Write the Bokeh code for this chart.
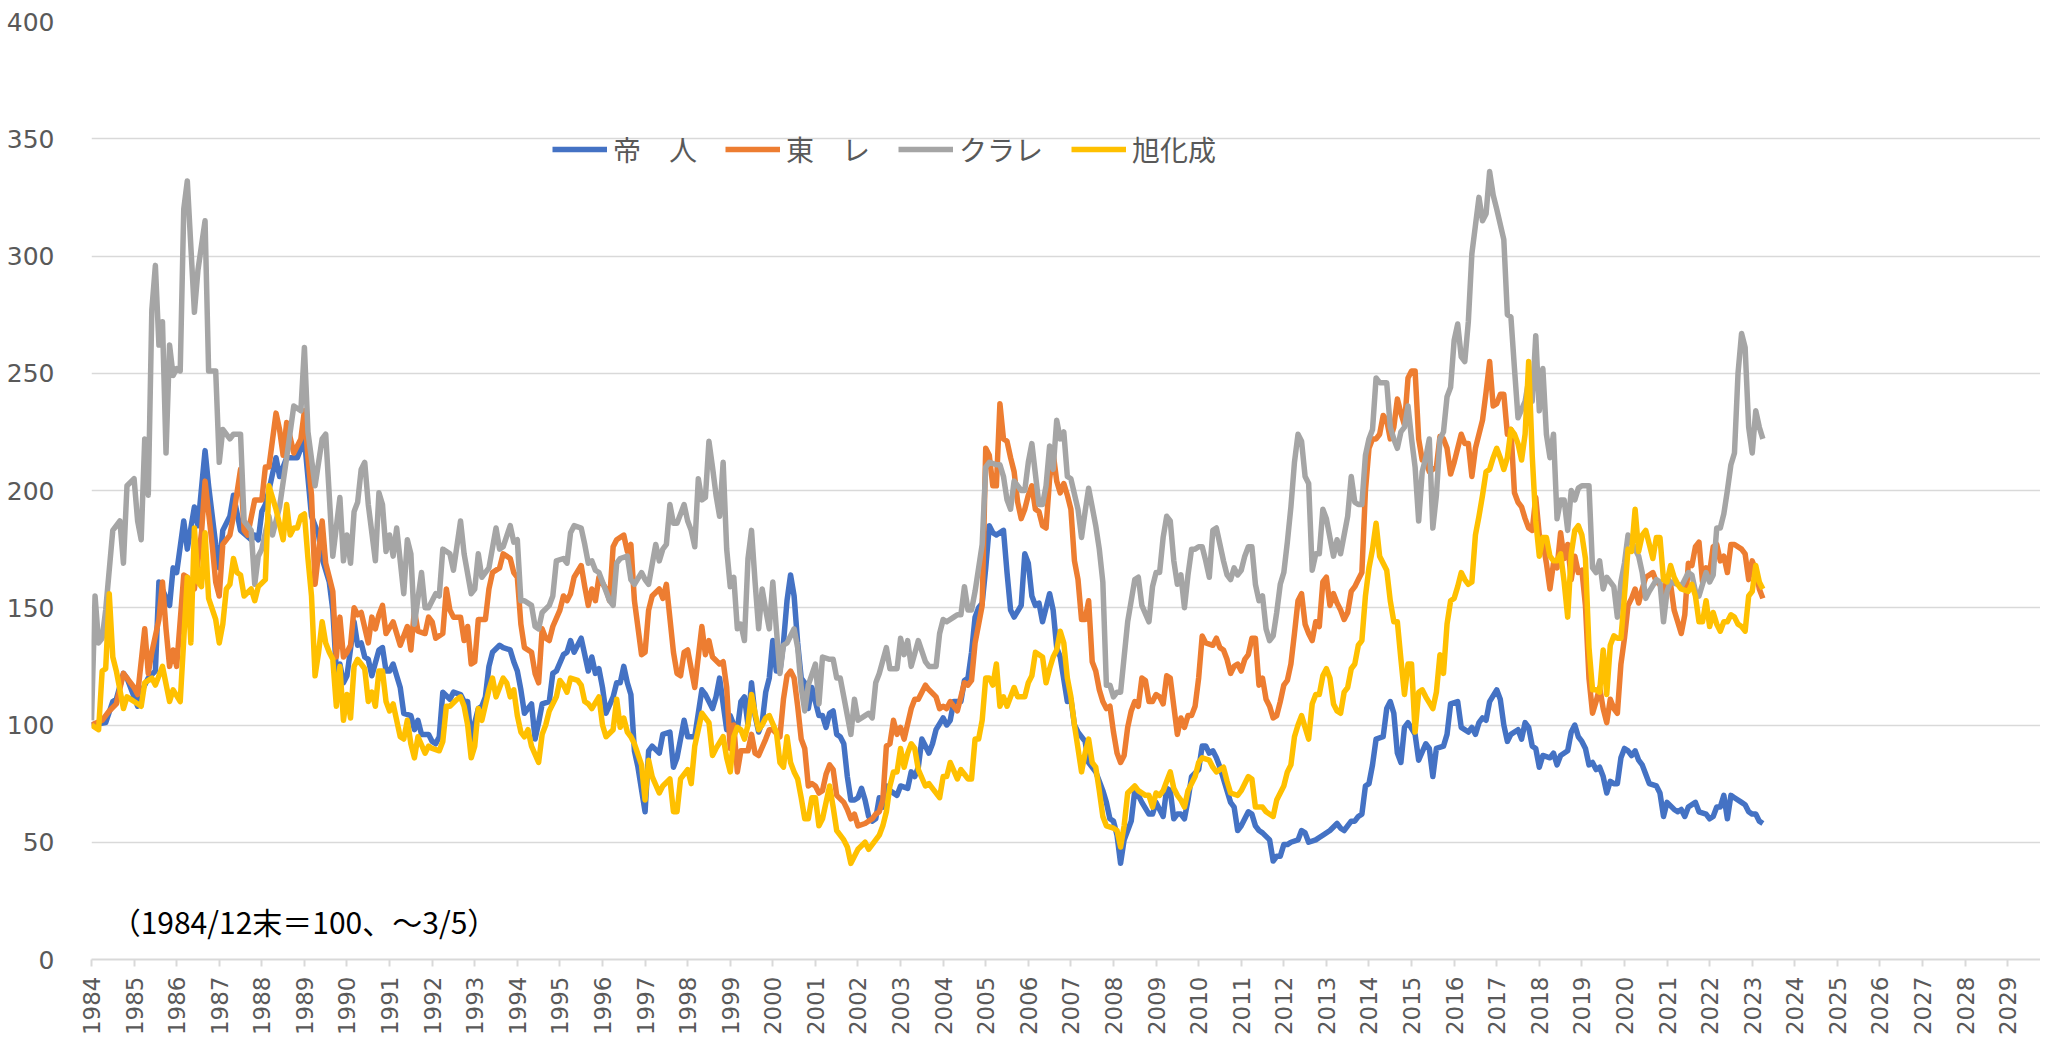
import math
from bokeh.plotting import figure
from bokeh.models import Range1d, FixedTicker, Legend, LegendItem, Label
from bokeh.embed import file_html
from bokeh.resources import INLINE

# ---------------- data (month index from the 1984/12 base point, index value) ----------------
BASE_YEAR = 1984  # base point (1984/12末 = 100) sits on the "1984" tick

teijin = [(0,100),(4,101),(6,110),(7,111),(9,122),(10,120),(13,108),(14,114),(16,120),(18,123),(19,161),(22,151),(23,167),(24,165),(26,187),(27,175),(29,193),(30,185),(32,217),(33,202),(35,177),(36,167),(37,183),(39,189),(40,198),(42,183),(45,179),(46,181),(47,179),(48,191),(49,194),(50,200),(52,214),(53,206),(55,214),(57,214),(58,214),(60,222),
 (62,189),(64,181),(65,171),(67,161),(68,149),(69,123),(70,126),(71,118),(72,121),(74,144),(75,134),(76,135),(77,129),(78,128),(79,121),(81,132),(82,133),(83,123),(84,123),(85,126),(87,116),(88,105),(90,104),(91,98),(92,102),(93,96),(95,96),(96,93),(97,92),(98,95),(99,114),(101,111),(102,114),(104,113),(105,110),(106,110),(107,92),(108,101),(109,107),(110,108),(111,112),(112,125),(113,131),(115,134),(116,133),(118,132),(119,127),(120,123),
 (121,115),(122,105),(124,109),(125,94),(126,101),(127,109),(129,110),(130,122),(131,123),(133,130),(134,131),(135,136),(136,131),(138,137),(139,130),(140,123),(141,129),(142,122),(143,124),(144,116),(145,105),(147,112),(148,118),(149,118),(150,125),(151,118),(152,113),(153,89),(154,82),(156,63),(157,89),(158,91),(160,88),(161,96),(163,97),(164,82),(165,86),(167,102),(168,95),(170,95),(172,115),(173,113),(175,107),(176,112),(177,120),(179,98),(180,104),
 (181,100),(182,98),(183,110),(184,112),(185,100),(186,118),(187,104),(188,97),(189,101),(190,114),(191,120),(192,136),(193,123),(194,123),(195,135),(196,153),(197,164),(198,155),(199,135),(200,120),(201,118),(202,107),(203,116),(205,104),(206,104),(207,99),(208,105),(209,106),(210,96),(211,95),(212,92),(213,78),(214,68),(215,68),(216,69),(217,73),(218,68),(219,61),(220,59),(221,60),(222,69),(223,65),(224,74),(225,72),(227,70),(228,74),(230,73),(231,80),(232,78),(233,82),(234,94),(235,91),(236,88),(237,92),(238,98),(240,103),
 (241,100),(242,102),(243,110),(245,110),(246,119),(247,120),(248,131),(249,146),(250,150),(251,152),(252,167),(253,185),(254,182),(255,181),(257,183),(258,165),(259,149),(260,146),(262,151),(263,173),(264,169),(265,155),(266,151),(267,152),(268,144),(270,156),(271,149),(272,133),(273,129),(275,110),(276,111),(277,100),(278,97),(280,93),(281,84),(283,80),(284,76),(285,72),(286,67),(287,60),(288,59),(289,53),(290,41),(291,51),(293,59),(294,72),(295,70),(296,67),(298,62),(299,62),(300,67),
 (301,64),(302,61),(303,73),(304,72),(305,60),(306,62),(307,62),(308,60),(309,68),(310,78),(312,81),(313,91),(314,91),(315,88),(316,89),(317,86),(318,82),(320,72),(321,67),(322,65),(323,55),(324,57),(325,60),(326,63),(327,62),(328,57),(329,55),(330,54),(332,51),(333,42),(334,44),(335,44),(336,49),(337,49),(338,50),(340,51),(341,55),(342,54),(343,50),(345,51),(346,52),(347,53),(349,55),(351,58),(352,56),(353,55),(355,59),(356,59),(357,61),(358,62),(359,74),(360,75),
 (361,83),(362,94),(364,95),(365,107),(366,110),(367,105),(368,88),(369,84),(370,99),(371,101),(373,96),(374,85),(376,92),(377,90),(378,78),(379,90),(381,91),(382,96),(383,109),(385,110),(386,99),(388,97),(389,99),(390,96),(391,101),(392,103),(393,102),(394,110),(396,115),(397,111),(398,100),(399,93),(400,96),(402,98),(403,94),(404,101),(405,99),(406,91),(407,90),(408,82),(409,87),(411,86),(412,88),(413,83),(414,87),(416,89),(417,97),(418,100),(419,95),(420,93),
 (421,90),(422,83),(423,84),(424,81),(425,82),(426,78),(427,71),(428,76),(429,75),(430,75),(431,86),(432,90),(433,89),(434,87),(435,89),(436,85),(437,83),(438,79),(439,75),(441,74),(442,71),(443,61),(444,67),(446,64),(447,63),(448,64),(449,61),(450,65),(452,67),(453,63),(455,62),(456,60),(457,61),(458,65),(459,65),(460,70),(461,60),(462,70),(463,69),(465,67),(466,66),(467,63),(468,62),(469,62),(470,59),(471,58)]

toray = [(0,100),(3,102),(5,106),(7,109),(9,122),(12,116),(13,113),(15,141),(16,122),(17,131),(19,145),(20,161),(21,141),(22,125),(23,132),(24,125),(26,164),(27,163),(29,158),(31,182),(32,204),(34,177),(35,161),(36,155),(37,177),(39,181),(40,189),(42,209),(43,183),(44,181),(46,196),(48,196),(49,210),(50,210),(52,233),(53,226),(54,215),(55,229),(57,216),(59,222),(60,234),
 (61,214),(62,198),(63,160),(65,187),(66,169),(67,163),(68,157),(69,129),(70,146),(71,129),(72,131),(73,134),(74,150),(75,147),(76,148),(78,135),(79,146),(80,141),(81,147),(82,151),(83,139),(85,144),(87,134),(89,142),(90,132),(91,149),(92,140),(94,139),(95,146),(96,144),(97,137),(99,139),(100,158),(101,149),(102,146),(104,146),(105,136),(106,142),(107,126),(108,127),(109,145),(111,145),(112,158),(113,165),(115,167),(116,173),(118,171),(119,165),(120,163),
 (121,143),(122,133),(124,131),(125,122),(126,118),(127,141),(128,137),(129,136),(130,142),(132,149),(133,155),(134,153),(135,156),(136,163),(138,168),(139,159),(140,151),(141,158),(142,153),(143,163),(145,158),(146,153),(147,176),(148,179),(150,181),(151,174),(152,177),(153,153),(155,130),(156,131),(157,149),(158,155),(160,158),(161,154),(162,160),(164,131),(165,122),(166,121),(167,131),(168,132),(170,116),(172,142),(173,130),(174,136),(175,129),(177,126),(178,127),(179,116),(180,90),
 (181,100),(182,80),(183,89),(185,89),(186,96),(187,88),(188,87),(190,94),(191,98),(192,98),(194,95),(195,111),(196,121),(197,123),(198,120),(199,108),(200,94),(201,90),(202,74),(203,75),(204,74),(205,71),(206,72),(207,79),(208,83),(209,81),(210,70),(212,67),(213,64),(214,60),(215,62),(216,57),(218,58),(220,60),(221,62),(222,63),(223,68),(224,91),(225,92),(226,102),(227,96),(228,99),(229,94),(231,107),(232,111),(233,111),(234,114),(235,117),(236,115),(238,112),(239,107),(240,108),
 (241,107),(242,110),(244,106),(245,112),(246,118),(247,117),(248,119),(249,135),(250,143),(251,151),(252,218),(253,215),(254,202),(255,202),(256,237),(257,222),(258,221),(259,214),(260,208),(261,195),(262,188),(263,192),(264,198),(265,202),(266,192),(267,191),(268,185),(269,184),(270,205),(271,216),(272,204),(273,199),(274,203),(275,198),(276,192),(277,170),(278,162),(279,145),(280,145),(281,153),(282,127),(283,123),(284,115),(285,110),(286,107),(287,108),(288,97),(289,88),(290,84),(291,87),(292,99),(293,106),(294,110),(295,108),(296,120),(297,119),(298,110),(299,110),(300,113),
 (301,112),(302,109),(303,121),(304,120),(305,108),(306,96),(307,103),(308,99),(309,104),(310,104),(311,108),(312,120),(313,138),(314,135),(316,134),(317,137),(318,133),(319,132),(320,128),(321,122),(322,125),(323,126),(324,123),(325,128),(326,130),(327,137),(328,137),(329,117),(330,120),(331,111),(332,108),(333,103),(334,104),(335,110),(336,117),(337,119),(338,126),(339,139),(340,153),(341,156),(342,143),(343,139),(344,136),(345,144),(346,142),(347,161),(348,163),(349,151),(350,156),(351,152),(352,149),(353,145),(354,148),(355,157),(356,159),(357,162),(358,165),(359,200),(360,218),
 (361,222),(362,222),(363,224),(364,232),(365,230),(366,222),(367,227),(368,239),(369,233),(370,228),(371,248),(372,251),(373,251),(374,222),(375,213),(376,213),(377,208),(379,210),(380,223),(381,222),(382,218),(383,207),(384,212),(386,224),(387,220),(388,220),(389,206),(390,218),(392,230),(393,242),(394,255),(395,236),(396,237),(397,241),(398,241),(399,224),(400,226),(401,199),(402,195),(403,193),(404,188),(405,184),(406,183),(407,197),(408,181),(409,178),(410,169),(411,158),(412,169),(413,167),(414,182),(415,171),(416,177),(417,162),(418,172),(419,165),(420,166),
 (421,151),(422,120),(423,105),(424,110),(425,116),(426,107),(427,101),(428,111),(429,107),(430,105),(431,126),(432,137),(433,151),(434,154),(435,158),(436,152),(437,158),(438,163),(439,164),(440,165),(441,161),(442,160),(443,155),(444,163),(445,160),(446,149),(447,144),(448,139),(449,147),(450,169),(451,168),(452,176),(453,178),(454,161),(455,167),(456,165),(457,176),(458,177),(459,170),(460,172),(461,165),(462,177),(463,177),(465,175),(466,173),(467,162),(468,170),(469,166),(470,158),(471,154)]

kuraray = [(0,102),(1,155),(2,135),(3,137),(4,149),(6,183),(8,187),(9,169),(10,202),(12,205),(13,187),(14,179),(15,222),(16,198),(17,277),(18,296),(19,262),(20,272),(21,216),(22,262),(23,249),(24,252),(25,251),(26,320),(27,332),(29,276),(30,294),(32,315),(33,251),(35,251),(36,212),(37,226),(39,222),(40,224),(42,224),(43,187),(45,183),(46,160),(47,172),(48,175),(50,189),(51,181),(53,193),(55,214),(57,236),(59,234),(60,261),
 (61,225),(63,202),(65,222),(66,224),(67,198),(68,172),(70,197),(71,170),(72,181),(73,169),(74,191),(75,195),(76,209),(77,212),(78,194),(80,170),(81,199),(82,194),(83,174),(84,181),(85,172),(86,184),(88,156),(89,179),(90,173),(91,143),(93,165),(94,150),(95,150),(97,156),(98,155),(99,175),(101,173),(102,166),(104,187),(105,173),(107,156),(108,158),(109,173),(110,163),(112,167),(114,184),(115,175),(116,176),(118,185),(119,178),(120,179),
 (121,153),(122,153),(124,151),(125,142),(126,141),(127,148),(129,151),(130,155),(131,170),(133,171),(134,169),(135,182),(136,185),(138,184),(139,177),(140,169),(141,170),(142,166),(143,165),(145,157),(146,153),(147,151),(148,169),(149,171),(151,172),(152,162),(153,160),(155,165),(156,162),(157,160),(159,177),(160,170),(161,175),(162,177),(163,194),(164,186),(165,186),(167,194),(168,187),(169,183),(170,176),(171,205),(172,196),(173,197),(174,221),(175,210),(176,198),(177,189),(178,212),(179,175),(180,159),
 (181,163),(182,141),(183,143),(184,136),(185,171),(186,183),(187,161),(188,141),(189,158),(190,149),(191,141),(192,161),(193,141),(194,122),(195,134),(196,135),(198,141),(199,133),(200,116),(201,106),(202,117),(204,126),(205,109),(206,129),(208,128),(209,128),(210,120),(211,120),(212,112),(214,96),(215,111),(216,102),(218,104),(219,105),(220,103),(221,118),(222,122),(224,133),(225,124),(227,124),(228,137),(229,130),(230,136),(231,125),(233,136),(235,127),(236,125),(238,125),(239,139),(240,145),
 (241,144),(243,146),(244,147),(245,147),(246,159),(247,149),(248,149),(249,157),(250,167),(251,177),(252,210),(253,212),(255,211),(256,211),(257,206),(258,196),(259,192),(260,204),(262,200),(263,200),(264,212),(265,220),(267,194),(268,194),(269,202),(270,219),(271,209),(272,230),(273,222),(274,225),(275,206),(276,205),(278,192),(279,180),(280,191),(281,201),(283,185),(284,175),(285,161),(286,117),(287,117),(288,112),(289,114),(290,114),(291,129),(292,144),(294,162),(295,163),(296,151),(298,144),(299,159),(300,165),
 (301,165),(302,180),(303,189),(304,187),(305,170),(306,160),(307,164),(308,150),(309,164),(310,175),(311,175),(312,176),(313,176),(314,170),(315,163),(316,183),(317,184),(318,177),(319,170),(320,164),(321,162),(322,167),(323,164),(324,166),(325,172),(326,176),(327,176),(328,160),(329,153),(330,155),(331,141),(332,136),(333,138),(334,148),(335,160),(336,165),(337,178),(338,193),(339,212),(340,224),(341,221),(342,206),(343,203),(344,166),(345,173),(346,173),(347,192),(348,188),(350,172),(351,179),(352,173),(354,189),(355,206),(356,195),(357,194),(358,194),(359,215),(360,222),
 (361,226),(362,248),(363,246),(365,246),(366,227),(367,222),(368,218),(369,225),(370,227),(371,236),(372,222),(373,210),(374,187),(375,208),(376,214),(377,222),(378,184),(379,198),(380,222),(381,225),(382,240),(383,244),(384,264),(385,271),(386,257),(387,255),(388,272),(389,301),(390,313),(391,325),(392,315),(393,318),(394,336),(395,326),(396,320),(398,307),(399,275),(400,274),(401,252),(402,231),(404,238),(405,247),(406,238),(407,266),(408,234),(409,252),(410,224),(411,214),(412,224),(413,188),(414,196),(415,196),(416,183),(417,200),(418,196),(419,201),(420,202),
 (421,202),(422,202),(423,167),(424,165),(425,170),(426,158),(427,163),(429,159),(430,146),(431,161),(432,169),(433,181),(434,178),(436,172),(437,165),(438,154),(439,157),(441,162),(442,161),(443,144),(444,157),(445,161),(447,160),(448,159),(450,165),(451,164),(452,157),(453,155),(455,165),(456,161),(457,164),(458,184),(459,184),(460,190),(461,200),(462,211),(463,216),(464,250),(465,267),(466,261),(467,227),(468,216),(469,234),(470,227),(471,222)]

asahi = [(0,100),(2,98),(3,123),(4,124),(5,156),(6,129),(7,123),(9,107),(10,112),(12,110),(14,108),(15,118),(17,120),(18,117),(20,125),(22,110),(23,115),(25,110),(27,163),(28,135),(29,184),(30,161),(31,159),(32,182),(33,154),(35,145),(36,135),(37,143),(38,158),(39,160),(40,171),(41,165),(42,164),(43,155),(45,158),(46,153),(47,159),(49,162),(50,202),(52,192),(54,179),(55,194),(56,181),(57,184),(58,184),(59,189),(60,190),
 (61,171),(62,155),(63,121),(64,131),(65,144),(66,135),(67,131),(68,128),(69,108),(70,125),(71,102),(72,113),(73,103),(74,125),(75,128),(76,126),(77,124),(78,110),(79,114),(80,108),(81,123),(82,123),(83,110),(84,106),(85,109),(87,95),(88,94),(89,102),(90,92),(91,86),(92,95),(94,88),(95,91),(96,90),(98,89),(99,93),(100,108),(101,108),(103,111),(104,112),(105,108),(106,100),(107,86),(108,91),(109,107),(110,102),(112,115),(113,120),(114,112),(115,116),(116,120),(117,118),(118,112),(119,115),(120,104),
 (121,97),(122,95),(123,98),(124,91),(126,84),(127,96),(128,100),(129,106),(131,112),(132,119),(133,117),(134,114),(135,120),(137,119),(138,117),(139,110),(140,109),(141,107),(143,112),(144,100),(145,95),(147,98),(148,111),(149,99),(150,103),(151,97),(152,95),(153,92),(155,83),(156,68),(157,85),(158,78),(160,71),(161,74),(163,77),(164,63),(165,63),(166,77),(168,81),(169,75),(170,91),(172,105),(173,103),(174,101),(175,87),(176,90),(178,95),(179,86),(180,80),
 (181,95),(182,99),(183,98),(184,94),(185,100),(186,113),(187,105),(188,98),(189,100),(190,103),(191,104),(193,97),(194,84),(195,82),(196,95),(197,84),(198,80),(199,77),(200,69),(201,60),(202,60),(203,69),(204,69),(205,57),(206,60),(208,74),(209,65),(210,55),(212,51),(213,48),(214,41),(215,44),(216,47),(218,50),(219,47),(221,51),(222,53),(223,57),(224,63),(225,74),(226,80),(227,80),(228,90),(229,82),(230,88),(231,92),(232,90),(233,81),(235,74),(236,75),(237,73),(239,69),(240,78),
 (241,78),(242,84),(244,77),(245,81),(246,79),(247,77),(248,77),(249,94),(250,94),(251,102),(252,120),(253,120),(254,117),(255,126),(256,108),(257,112),(258,108),(260,116),(261,112),(263,112),(264,118),(265,121),(266,131),(268,129),(269,118),(270,124),(271,129),(272,132),(273,140),(274,135),(275,120),(276,112),(277,100),(278,90),(279,80),(280,88),(281,94),(282,84),(283,82),(284,72),(285,61),(286,57),(288,56),(289,55),(290,48),(291,57),(292,71),(294,74),(295,72),(297,70),(298,70),(299,65),(300,71),
 (301,70),(302,72),(303,76),(304,80),(305,73),(306,70),(307,68),(308,65),(309,72),(311,78),(312,84),(313,86),(315,85),(316,82),(317,80),(319,82),(320,76),(321,71),(323,70),(324,72),(326,78),(327,77),(328,65),(330,65),(331,63),(333,61),(334,68),(336,74),(337,80),(338,83),(339,95),(340,100),(341,104),(343,94),(344,109),(345,113),(346,113),(347,121),(348,124),(349,120),(350,109),(351,106),(352,105),(353,114),(354,116),(355,124),(356,126),(357,134),(358,136),(359,155),(360,167),
 (361,175),(362,186),(363,172),(365,166),(366,153),(367,144),(368,144),(369,128),(370,113),(371,126),(372,126),(373,97),(374,114),(375,115),(376,112),(378,107),(379,114),(380,130),(381,122),(382,143),(383,153),(384,154),(385,159),(386,165),(387,162),(388,160),(389,161),(390,181),(391,189),(392,198),(393,208),(394,209),(395,214),(396,218),(397,214),(398,209),(399,214),(400,226),(401,224),(402,220),(403,213),(404,224),(405,255),(406,215),(407,187),(408,172),(409,180),(410,180),(411,172),(412,170),(413,170),(414,173),(415,161),(416,146),(417,173),(418,183),(419,185),(420,181),
 (421,171),(422,133),(423,115),(424,115),(425,114),(426,132),(427,113),(428,134),(429,138),(430,137),(431,137),(432,155),(433,175),(434,174),(435,192),(436,174),(437,181),(438,183),(439,177),(440,171),(441,180),(442,180),(443,162),(444,161),(445,168),(446,163),(447,160),(448,158),(450,157),(451,160),(452,155),(453,144),(454,144),(455,153),(456,142),(457,148),(458,143),(459,140),(460,144),(461,144),(462,147),(463,146),(464,143),(465,142),(466,140),(467,155),(468,157),(469,168),(470,161),(471,158)]

series_names = ["帝\u3000人", "東\u3000レ", "クラレ", "旭化成"]
series_data = [teijin, toray, kuraray, asahi]
series_colors = ["#4472C4", "#ED7D31", "#A5A5A5", "#FFC000"]

year_ticks = list(range(1984, 2030))
value_ticks = [0, 50, 100, 150, 200, 250, 300, 350, 400]
note_text = "（1984/12末＝100、～3/5）"

# ---------------- figure ----------------
p = figure(width=2040, height=1038, output_backend="svg", toolbar_location=None,
           x_range=Range1d(1984, 2029.77), y_range=Range1d(0, 400),
           min_border_left=91, min_border_right=0, min_border_top=21, min_border_bottom=77)
p.outline_line_color = None
p.background_fill_color = "white"
p.border_fill_color = "white"

items = []
for name, data, color in zip(series_names, series_data, series_colors):
    xs = [BASE_YEAR + m / 12 for m, _ in data]
    ys = [v for _, v in data]
    r = p.line(xs, ys, line_color=color, line_width=5.5, line_join="round")
    items.append(LegendItem(label=name, renderers=[r]))

legend = Legend(items=items, orientation="horizontal", location=(461, 790),
                label_text_font="Noto Sans CJK JP", label_text_font_size="28px",
                label_text_color="#595959", glyph_width=55, glyph_height=30,
                label_standoff=6, spacing=28, padding=0, margin=0,
                border_line_alpha=0, background_fill_alpha=0)
p.add_layout(legend)

# x axis
p.xaxis.ticker = FixedTicker(ticks=year_ticks)
p.xaxis.major_label_orientation = math.pi / 2
p.xaxis.axis_line_color = "#D9D9D9"
p.xaxis.axis_line_width = 2
p.xaxis.major_tick_line_color = "#D9D9D9"
p.xaxis.major_tick_line_width = 2
p.xaxis.major_tick_out = 7
p.xaxis.major_tick_in = 0
p.xaxis.minor_tick_line_color = None
p.xaxis.major_label_text_font = "DejaVu Sans"
p.xaxis.major_label_text_font_size = "23px"
p.xaxis.major_label_text_color = "#595959"
p.xaxis.major_label_standoff = 10
p.xgrid.grid_line_color = None

# y axis
p.yaxis.ticker = FixedTicker(ticks=value_ticks)
p.yaxis.axis_line_color = None
p.yaxis.major_tick_line_color = None
p.yaxis.minor_tick_line_color = None
p.yaxis.major_label_text_font = "DejaVu Sans"
p.yaxis.major_label_text_font_size = "25px"
p.yaxis.major_label_text_color = "#595959"
p.yaxis.major_label_standoff = 31
p.ygrid.ticker = FixedTicker(ticks=value_ticks)
p.ygrid.grid_line_color = "#D9D9D9"
p.ygrid.grid_line_width = 1.5

note = Label(x=1984.45, y=16.5, text=note_text, text_font="Noto Sans CJK JP",
             text_font_size="30px", text_color="#000000", text_baseline="middle")
p.add_layout(note)

open("out.html", "w").write(file_html(p, INLINE))
